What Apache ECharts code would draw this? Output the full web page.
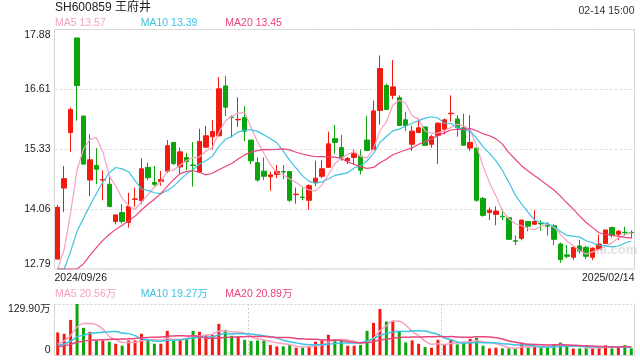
<!DOCTYPE html>
<html><head><meta charset="utf-8">
<script src="https://cdn.jsdelivr.net/npm/echarts@6/dist/echarts.min.js"></script>
<style>html,body{margin:0;padding:0;background:#fff}#c{width:640px;height:360px}</style>
</head><body><div id="c"></div>
<script>
const stockTitle = 'SH600859 王府井';
const timeText = '02-14 15:00';
const dates = ['2024/09/26','2024/09/27','2024/09/30','2024/10/08','2024/10/09','2024/10/10','2024/10/11','2024/10/14','2024/10/15','2024/10/16','2024/10/17','2024/10/18','2024/10/21','2024/10/22','2024/10/23','2024/10/24','2024/10/25','2024/10/28','2024/10/29','2024/10/30','2024/10/31','2024/11/01','2024/11/04','2024/11/05','2024/11/06','2024/11/07','2024/11/08','2024/11/11','2024/11/12','2024/11/13','2024/11/14','2024/11/15','2024/11/18','2024/11/19','2024/11/20','2024/11/21','2024/11/22','2024/11/25','2024/11/26','2024/11/27','2024/11/28','2024/11/29','2024/12/02','2024/12/03','2024/12/04','2024/12/05','2024/12/06','2024/12/09','2024/12/10','2024/12/11','2024/12/12','2024/12/13','2024/12/16','2024/12/17','2024/12/18','2024/12/19','2024/12/20','2024/12/23','2024/12/24','2024/12/25','2024/12/26','2024/12/27','2024/12/30','2024/12/31','2025/01/02','2025/01/03','2025/01/06','2025/01/07','2025/01/08','2025/01/09','2025/01/10','2025/01/13','2025/01/14','2025/01/15','2025/01/16','2025/01/17','2025/01/20','2025/01/21','2025/01/22','2025/01/23','2025/01/24','2025/01/27','2025/02/05','2025/02/06','2025/02/07','2025/02/10','2025/02/11','2025/02/12','2025/02/13','2025/02/14'];
const opens  = [13.00,14.51,15.69,17.70,16.04,14.68,14.99,14.68,14.59,13.80,13.99,13.78,14.27,14.24,14.95,14.63,14.65,14.87,15.48,14.96,15.16,15.00,14.85,15.38,15.60,15.62,16.68,16.02,15.96,16.01,15.53,15.05,14.87,14.75,14.80,14.86,14.86,14.37,14.32,14.25,14.62,14.76,14.95,15.56,15.37,15.09,15.16,15.19,15.53,15.33,16.16,16.69,16.48,16.43,15.96,15.44,15.69,15.81,15.44,15.63,15.76,16.09,15.98,15.79,15.36,15.36,14.29,13.99,13.95,13.91,13.88,13.39,13.44,13.80,13.74,13.76,13.71,13.71,13.32,13.09,13.04,13.28,13.25,13.04,13.21,13.33,13.67,13.53,13.57,13.57];
const closes = [14.10,14.71,16.18,16.69,15.02,15.11,14.91,14.69,14.12,13.94,13.80,14.12,14.28,14.92,14.73,14.59,14.69,15.41,15.03,15.28,15.07,14.99,15.50,15.62,15.71,16.62,16.23,16.01,15.97,15.72,15.09,14.68,14.76,14.79,14.86,14.85,14.25,14.38,14.31,14.56,14.72,14.92,15.45,15.48,15.16,15.14,15.24,14.89,15.31,16.15,17.05,16.18,16.66,15.84,15.84,15.72,15.79,15.42,15.60,15.89,15.96,16.10,15.79,15.42,15.48,14.25,13.93,14.04,14.02,13.90,13.42,13.38,13.83,13.70,13.80,13.75,13.70,13.42,12.99,13.06,13.25,13.17,13.06,13.23,13.32,13.62,13.50,13.59,13.56,13.56];
const lows   = [13.00,14.00,15.28,15.94,15.02,14.34,14.59,14.25,14.10,13.74,13.76,13.67,14.11,14.17,14.68,14.54,14.56,14.83,15.00,14.80,14.89,14.54,14.83,15.36,15.33,15.62,16.04,15.58,15.81,15.51,15.02,14.65,14.68,14.45,14.72,14.70,14.22,14.18,14.25,14.05,14.55,14.72,14.95,15.24,15.09,15.02,15.00,14.80,15.30,15.33,15.86,16.18,16.40,15.84,15.72,15.30,15.69,15.41,15.37,15.02,15.65,15.92,15.60,15.41,15.30,14.22,13.90,13.83,13.72,13.83,13.42,13.30,13.40,13.59,13.74,13.60,13.50,13.30,12.92,13.02,12.98,13.12,13.00,12.98,13.21,13.33,13.46,13.40,13.50,13.44];
const highs  = [14.15,14.98,16.22,17.70,16.04,15.65,15.36,14.89,14.78,13.94,14.17,14.41,14.52,15.14,15.05,14.98,14.87,15.53,15.48,15.37,15.26,15.49,15.77,15.83,15.96,16.87,16.89,16.06,16.44,16.25,15.53,15.16,15.16,14.86,15.00,15.00,14.86,14.52,14.52,14.59,15.09,15.10,15.71,15.85,15.64,15.17,15.33,15.33,16.04,16.37,17.33,16.73,17.23,16.48,16.13,15.84,15.99,15.81,15.64,15.91,15.99,16.48,16.06,16.09,16.06,15.36,14.32,14.10,14.12,14.06,13.88,13.50,13.83,13.81,14.04,13.83,13.79,13.74,13.35,13.30,13.26,13.41,13.28,13.25,13.52,13.62,13.69,13.62,13.69,13.61];
// volume in 万 shares
const volumes = [57.4,54.0,89.4,129.9,69.2,59.0,37.1,37.1,33.7,28.7,23.6,37.1,37.1,54.0,40.5,28.7,28.7,61.6,38.8,40.5,40.5,61.6,59.0,51.5,51.5,79.3,64.1,48.9,47.2,38.8,35.4,37.1,37.1,25.3,21.9,21.9,25.3,18.6,18.6,21.9,33.7,37.1,51.5,40.5,37.1,23.6,23.6,25.3,61.6,81.8,117.2,85.2,86.9,59.9,32.1,37.1,28.7,20.2,18.6,38.8,27.0,40.5,27.0,32.1,41.3,43.9,23.6,16.9,18.6,16.9,16.9,16.9,31.5,20.2,21.9,18.6,20.2,25.7,31.5,21.9,16.5,16.8,17.0,16.4,23.0,25.0,16.8,18.5,25.5,17.0];
// estimated values before the first visible day (needed for the moving averages)
const priorCloses = [11.38,11.45,11.52,11.48,11.55,11.60,11.58,11.66,11.72,12.05,12.22,12.30,12.35,12.28,12.40,12.36,12.30,12.10,12.82];
const priorVolumes = [17,19,16,18,20,17,19,21,18,20,22,19,21,23,20,18,20,22,26];
const yTicks = [12.79, 14.06, 15.33, 16.61, 17.88];
const yTickLabels = ['12.79','14.06','15.33','16.61','17.88'];
const volTicks = [0, 129.9];
const volTickLabels = ['0','129.90万'];
const xTickLabels = ['2024/09/26','2025/02/14'];
const maLegend = {ma5:'13.57', ma10:'13.39', ma20:'13.45'};
const volLegend = {ma5:'20.56万', ma10:'19.27万', ma20:'20.89万'};

const UP = '#f21b10', DOWN = '#0ca50c';
const C5 = '#f7a1c1', C10 = '#3cc3e2', C20 = '#e9457d';
const FONT = '"Liberation Sans", Arial, "Noto Sans CJK SC", sans-serif';

function movingAverage(series, prior, n) {
  const all = prior.concat(series);
  return series.map((_, i) => {
    const end = prior.length + i;
    let s = 0;
    for (let k = end - n + 1; k <= end; k++) s += all[k];
    return +(s / n).toFixed(3);
  });
}
const yMin = yTicks[0], yMax = yTicks[yTicks.length - 1];
const clampMin = arr => arr.map(v => Math.max(v, yMin));
const ma5 = clampMin(movingAverage(closes, priorCloses, 5));
const ma10 = clampMin(movingAverage(closes, priorCloses, 10));
const ma20 = clampMin(movingAverage(closes, priorCloses, 20));
const vma5 = movingAverage(volumes, priorVolumes, 5);
const vma10 = movingAverage(volumes, priorVolumes, 10);
const vma20 = movingAverage(volumes, priorVolumes, 20);

const kData = opens.map((o, i) => [o, closes[i], lows[i], highs[i]]);
const volData = volumes.map((v, i) => ({value: v, itemStyle: {color: closes[i] >= opens[i] ? UP : DOWN}}));

function lookup(ticks, labels) {
  return v => {
    for (let i = 0; i < ticks.length; i++) if (Math.abs(v - ticks[i]) < 0.01) return labels[i];
    return '';
  };
}

const chart = echarts.init(document.getElementById('c'), null, {renderer: 'canvas'});
const lineS = (name, data, color, xi, yi, w, smooth) => ({
  name, type: 'line', data, xAxisIndex: xi, yAxisIndex: yi, symbol: 'none', smooth: smooth,
  lineStyle: {color, width: w}, silent: true, z: 3
});
const txt = (text, x, y, fill, size, align) => ({
  type: 'text', silent: true, z: 100,
  style: {text, x, y, fill, font: size + 'px ' + FONT, align: align || 'left', verticalAlign: 'middle'}
});

chart.setOption({
  animation: false,
  backgroundColor: '#fff',
  grid: [
    {left: 54.5, right: 5.5, top: 29.5, height: 239.5, show: true, borderColor: '#d6d6d6', borderWidth: 1, containLabel: false},
    {left: 54.5, right: 5.5, top: 304, height: 51, show: false, containLabel: false}
  ],
  xAxis: [
    {type: 'category', gridIndex: 0, data: dates, boundaryGap: true, axisLine: {show: false}, axisTick: {show: false}, axisLabel: {show: false}, splitLine: {show: false}},
    {type: 'value', gridIndex: 0, min: 0, max: 1, interval: 1, position: 'bottom', axisLine: {show: false}, axisTick: {show: false}, splitLine: {show: false},
      axisLabel: {color: '#222', fontSize: 10.5, fontFamily: FONT, margin: 4, formatter: v => xTickLabels[v] || '', alignMinLabel: 'left', alignMaxLabel: 'right'}},
    {type: 'category', gridIndex: 1, data: dates, boundaryGap: true, axisLine: {show: true, lineStyle: {color: '#d6d6d6'}}, axisTick: {show: false}, axisLabel: {show: false},
      splitLine: {show: true, interval: 29, lineStyle: {color: '#cfcfcf', type: [2, 2]}}}
  ],
  yAxis: [
    {type: 'value', gridIndex: 0, min: yMin, max: yMax, interval: (yMax - yMin) / 4, axisLine: {show: false}, axisTick: {show: false},
      axisLabel: {color: '#222', fontSize: 10.5, fontFamily: FONT, margin: 4, formatter: lookup(yTicks, yTickLabels), verticalAlignMinLabel: 'bottom', verticalAlignMaxLabel: 'top'},
      splitLine: {show: true, lineStyle: {color: '#dedede', type: [3, 2]}}},
    {type: 'value', gridIndex: 1, min: volTicks[0], max: volTicks[1], interval: volTicks[1] - volTicks[0], axisLine: {show: true, lineStyle: {color: '#d6d6d6'}}, axisTick: {show: false},
      axisLabel: {color: '#222', fontSize: 10.5, fontFamily: FONT, margin: 4, formatter: lookup(volTicks, volTickLabels), verticalAlignMinLabel: 'bottom', verticalAlignMaxLabel: 'top'},
      splitLine: {show: true, lineStyle: {color: '#cfcfcf', type: [2, 2]}}},
    {type: 'value', gridIndex: 1, position: 'right', min: volTicks[0], max: volTicks[1], axisLine: {show: true, lineStyle: {color: '#d6d6d6'}}, axisTick: {show: false}, axisLabel: {show: false}, splitLine: {show: false}}
  ],
  series: [
    {type: 'candlestick', xAxisIndex: 0, yAxisIndex: 0, data: kData, barWidth: 5, silent: true, z: 2,
      itemStyle: {color: UP, color0: DOWN, borderColor: UP, borderColor0: DOWN, borderWidth: 1}},
    lineS('MA5', ma5, C5, 0, 0, 1.2, false),
    lineS('MA10', ma10, C10, 0, 0, 1.2, false),
    lineS('MA20', ma20, C20, 0, 0, 1.2, false),
    {type: 'bar', xAxisIndex: 2, yAxisIndex: 1, data: volData, barWidth: 3, silent: true, z: 2},
    lineS('VMA5', vma5, C5, 2, 1, 1.5, 0.4),
    lineS('VMA10', vma10, C10, 2, 1, 1.5, 0.4),
    lineS('VMA20', vma20, C20, 2, 1, 1.5, 0.4)
  ],
  graphic: [
    txt(stockTitle, 55, 8, '#222', 12),
    txt(timeText, 634.5, 11, '#333', 10.5, 'right'),
    txt('MA5 ' + maLegend.ma5, 55, 23.5, C5, 10.5),
    txt('MA10 ' + maLegend.ma10, 140.7, 23.5, C10, 10.5),
    txt('MA20 ' + maLegend.ma20, 225.3, 23.5, C20, 10.5),
    txt('MA5 ' + volLegend.ma5, 55, 294.5, C5, 10.5),
    txt('MA10 ' + volLegend.ma10, 140.7, 294.5, C10, 10.5),
    txt('MA20 ' + volLegend.ma20, 225.3, 294.5, C20, 10.5),
    {type: 'text', silent: true, z: 1, style: {text: 'sina.com', x: 581, y: 250, fill: 'rgba(170,170,170,0.35)', font: 'bold 13px ' + FONT, verticalAlign: 'middle'}}
  ]
});
</script></body></html>
